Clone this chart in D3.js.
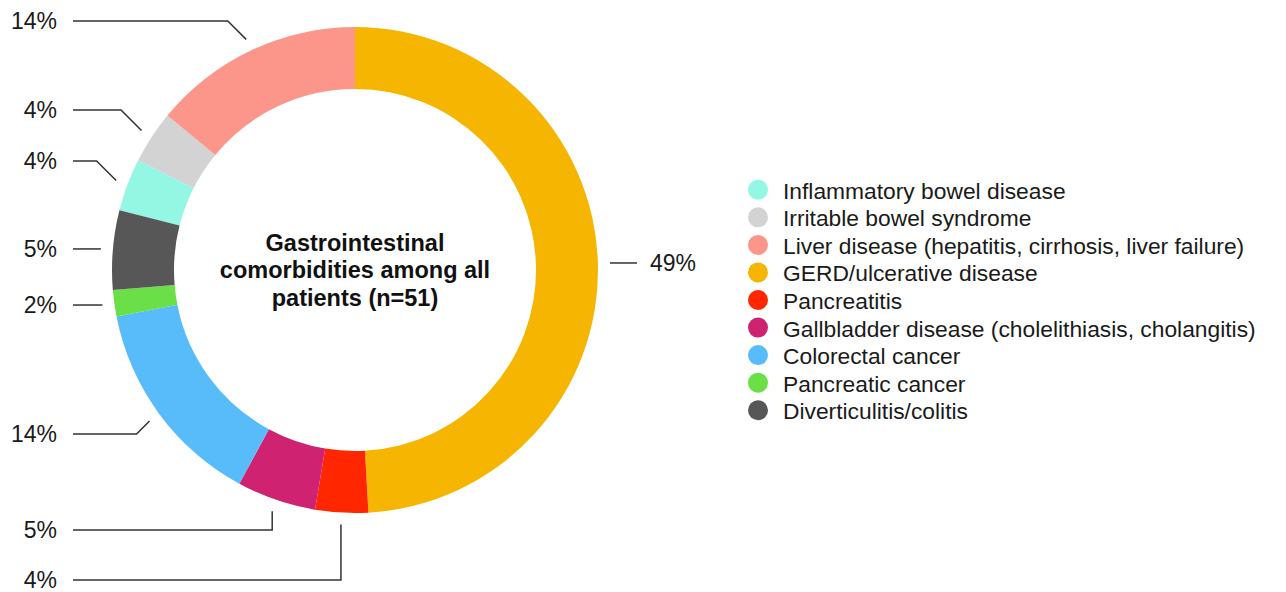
<!DOCTYPE html>
<html>
<head>
<meta charset="utf-8">
<script src="https://cdn.jsdelivr.net/npm/d3@7"></script>
<style>
  html, body { margin: 0; padding: 0; background: #fff; }
  svg { display: block; font-family: "Liberation Sans", Arial, Helvetica, sans-serif; }
</style>
</head>
<body>
<svg id="chart" width="1286" height="592"></svg>
<script>
// Comorbidity categories, listed in legend order (also the clockwise order of the ring)
const categories = [
  "Inflammatory bowel disease",
  "Irritable bowel syndrome",
  "Liver disease (hepatitis, cirrhosis, liver failure)",
  "GERD/ulcerative disease",
  "Pancreatitis",
  "Gallbladder disease (cholelithiasis, cholangitis)",
  "Colorectal cancer",
  "Pancreatic cancer",
  "Diverticulitis/colitis"
];
// Number of reported comorbidities per category
const counts = [2, 2, 8, 28, 2, 3, 8, 1, 3];
const colors = ["#93f7e3", "#d3d3d3", "#fd968a", "#f5b500", "#ff2600", "#cf2270", "#59bcfa", "#6adf48", "#575757"];
const titleLines = ["Gastrointestinal", "comorbidities among all", "patients (n=51)"];
// The ring starts (at 12 o'clock) with this category
const firstCategory = "GERD/ulcerative disease";

// Label placement: y of each percentage label and how its leader line bends
const labelLayout = {
  "Inflammatory bowel disease": { side: "left", y: 161, bend: "diag" },
  "Irritable bowel syndrome": { side: "left", y: 110, bend: "diag" },
  "Liver disease (hepatitis, cirrhosis, liver failure)": { side: "left", y: 21, bend: "diag" },
  "GERD/ulcerative disease": { side: "right", bend: "flat" },
  "Pancreatitis": { side: "left", y: 580, bend: "vert" },
  "Gallbladder disease (cholelithiasis, cholangitis)": { side: "left", y: 530, bend: "vert" },
  "Colorectal cancer": { side: "left", y: 434, bend: "diag" },
  "Pancreatic cancer": { side: "left", bend: "flat" },
  "Diverticulitis/colitis": { side: "left", bend: "flat" }
};

const svg = d3.select("#chart");
const cx = 355, cy = 270, outerR = 243, innerR = 181;
const total = d3.sum(counts);
const pct = d3.format(".0%");

const data = categories.map((c, i) => ({ name: c, value: counts[i], color: colors[i] }));
const firstIdx = categories.indexOf(firstCategory);
const offset = d3.sum(counts.slice(0, firstIdx)) / total * 2 * Math.PI;

const pie = d3.pie().sort(null).value(d => d.value)
  .startAngle(-offset).endAngle(2 * Math.PI - offset);
const arcs = pie(data);
const arc = d3.arc().innerRadius(innerR).outerRadius(outerR);

const g = svg.append("g").attr("transform", `translate(${cx},${cy})`);
g.selectAll("path.slice").data(arcs).join("path")
  .attr("class", "slice")
  .attr("d", arc)
  .attr("fill", d => d.data.color);

// Center title
const title = svg.append("text")
  .attr("x", cx).attr("text-anchor", "middle")
  .attr("font-weight", "bold").attr("font-size", 23.5).attr("fill", "#111");
titleLines.forEach((t, i) => {
  title.append("tspan").attr("x", cx).attr("y", cy - 27.5 + i * 27.5)
    .attr("dominant-baseline", "central").text(t);
});

// Leader lines and percentage labels
const lineR = outerR + 12;
const leftLineX = 73, leftTextX = 57, rightLineX = 637, rightTextX = 650;
const labels = svg.append("g");
arcs.forEach(a => {
  const lay = labelLayout[a.data.name];
  const mid = (a.startAngle + a.endAngle) / 2;
  const ex = cx + lineR * Math.sin(mid), ey = cy - lineR * Math.cos(mid);
  let pts, ly, tx, anchor;
  if (lay.side === "right") {
    ly = ey;
    pts = [[ex, ey], [rightLineX, ey]];
    tx = rightTextX; anchor = "start";
  } else {
    ly = lay.y !== undefined ? lay.y : ey;
    if (lay.bend === "diag") {
      const ex2 = ex - Math.abs(ey - ly);
      pts = [[ex, ey], [ex2, ly], [leftLineX, ly]];
    } else if (lay.bend === "vert") {
      pts = [[ex, ey], [ex, ly], [leftLineX, ly]];
    } else {
      pts = [[ex, ey], [leftLineX, ey]];
    }
    tx = leftTextX; anchor = "end";
  }
  labels.append("path")
    .attr("d", d3.line()(pts))
    .attr("fill", "none").attr("stroke", "#333").attr("stroke-width", 1.5);
  labels.append("text")
    .attr("x", tx).attr("y", ly)
    .attr("text-anchor", anchor).attr("dominant-baseline", "central")
    .attr("font-size", 23).attr("fill", "#1a1a1a")
    .text(pct(a.data.value / total));
});

// Legend
const legY = d3.scaleBand().domain(categories).range([176, 424]);
const legend = svg.append("g");
const rows = legend.selectAll("g").data(data).join("g")
  .attr("transform", d => `translate(0,${legY(d.name) + legY.bandwidth() / 2})`);
rows.append("circle").attr("cx", 758).attr("cy", 0).attr("r", 10).attr("fill", d => d.color);
rows.append("text").attr("x", 783).attr("y", 1)
  .attr("dominant-baseline", "central").attr("font-size", 22.8).attr("fill", "#1a1a1a")
  .text(d => d.name);
</script>
</body>
</html>
